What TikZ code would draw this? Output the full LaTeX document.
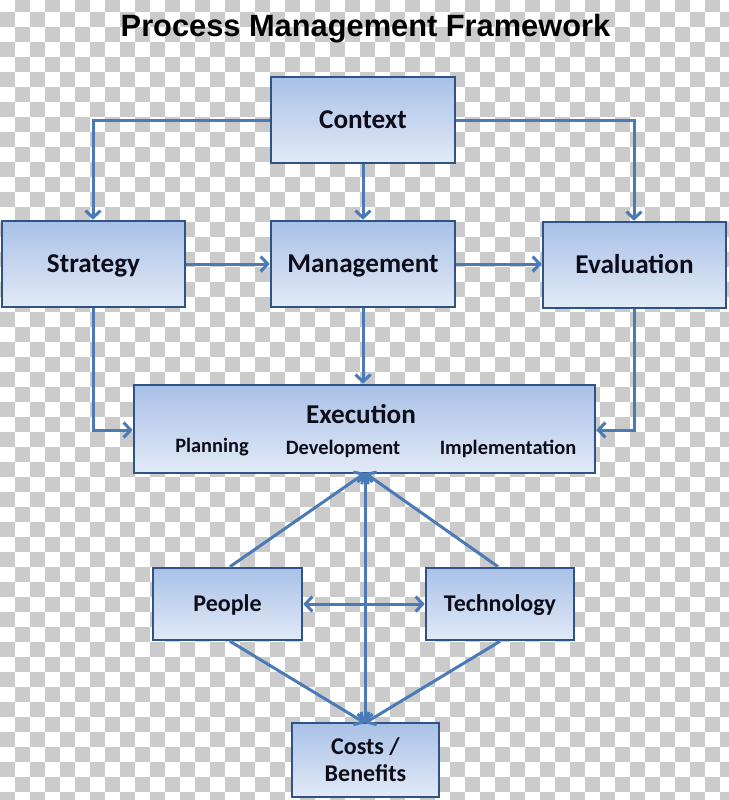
\documentclass[tikz,border=0pt]{standalone}
\usepackage{fontspec}
\setmainfont{Carlito}
\newfontfamily\titlefont{Liberation Sans}
\usetikzlibrary{arrows.meta}
\definecolor{chk}{HTML}{CBCBCB}
\definecolor{conn}{HTML}{4A7BB7}
\definecolor{bord}{HTML}{2E5386}
\definecolor{ftop}{HTML}{A9C1E7}
\definecolor{fbot}{HTML}{E2EAF7}
\definecolor{txt}{HTML}{0D0D1A}
\tikzset{
  box/.style={draw=bord, line width=2.6pt, top color=ftop, bottom color=fbot, text=txt, font=\bfseries, inner sep=0pt},
  titletxt/.style={font=\titlefont\fontsize{30.8}{36}\selectfont\bfseries, text=black, text height=22pt, text depth=0pt},
  bigtxt/.style={font=\fontsize{27.2}{31}\selectfont\bfseries, text height=17.5pt, text depth=0pt},
  midtxt/.style={font=\fontsize{24}{28}\selectfont\bfseries, text height=15.5pt, text depth=0pt},
  cbtxt/.style={font=\fontsize{24}{28}\selectfont\bfseries},
  subtxt/.style={font=\fontsize{20.4}{24}\selectfont\bfseries, text=txt, text height=13.1pt, text depth=0pt},
  conn/.style={draw=conn, line width=3pt, -{Straight Barb[length=7pt,width=15pt,line width=3pt]}},
  conn2/.style={draw=conn, line width=3pt, {Straight Barb[length=7pt,width=15pt,line width=3pt]}-{Straight Barb[length=7pt,width=15pt,line width=3pt]}},
}
\begin{document}
\begin{tikzpicture}[x=1pt,y=-1pt]
\useasboundingbox (0,0) rectangle (728,800);
\fill[white] (0,0) rectangle (728,800);
\foreach \j in {0,...,54} {
  \foreach \i in {0,...,48} {
    \pgfmathtruncatemacro\p{mod(\i+\j,2)}
    \ifnum\p=1
      \fill[chk] (15*\i,-3+15*\j) rectangle (15*\i+15,12+15*\j);
    \fi
  }
}
\node[titletxt] (title) at (365.5,26) {Process Management Framework};

% boxes
\node[box, bigtxt, minimum width=184pt, minimum height=86pt] (ctx) at (363,120) {Context};
\node[box, bigtxt, minimum width=183pt, minimum height=86pt] (str) at (93.5,264) {Strategy};
\node[box, bigtxt, minimum width=184pt, minimum height=86pt] (mgt) at (363,264) {Management};
\node[box, bigtxt, minimum width=183pt, minimum height=86pt] (eva) at (634.5,265) {Evaluation};
\node[box, minimum width=461pt, minimum height=88pt] (exe) at (364.5,429) {};
\node[bigtxt, text=txt] (exet) at (361,415) {Execution};
\node[subtxt] (plan) at (212,446) {Planning};
\node[subtxt] (dev) at (343,448) {Development};
\node[subtxt] (imp) at (508,448) {Implementation};
\node[box, midtxt, minimum width=149pt, minimum height=72pt] (ppl) at (227.5,604) {People};
\node[box, midtxt, minimum width=148pt, minimum height=72pt] (tec) at (500,604) {Technology};
\node[box, cbtxt, minimum width=147pt, minimum height=74pt, align=center] (cst) at (365.5,760) {Costs /\\[-1pt]Benefits};

% helper coordinates
\coordinate (cl) at (93,120);
\coordinate (cr) at (634,120);
\coordinate (sl) at (93,430);
\coordinate (er) at (634,430);
\coordinate (eb) at (365,473);
\coordinate (ct) at (365,723);

% connectors
\draw[conn] (ctx.west) -- (cl) -- (str.north -| cl);
\draw[conn] (ctx.east) -- (cr) -- (eva.north -| cr);
\draw[conn] (ctx.south) -- (mgt.north);
\draw[conn] (str.east) -- (mgt.west);
\draw[conn] (mgt.east |- str.east) -- (eva.west |- str.east);
\draw[conn] (mgt.south) -- (exe.north -| mgt.south);
\draw[conn] (str.south -| sl) -- (sl) -- (exe.west |- sl);
\draw[conn] (eva.south -| er) -- (er) -- (exe.east |- er);
\draw[conn2] (ppl.east) -- (tec.west);
\draw[conn2] (eb) -- (ct);
\draw[conn] (ppl.north -| 230,0) -- (eb);
\draw[conn] (tec.north -| 498,0) -- (eb);
\draw[conn] (ppl.south -| 230,0) -- (ct);
\draw[conn] (tec.south -| 500,0) -- (ct);
\end{tikzpicture}
\end{document}
